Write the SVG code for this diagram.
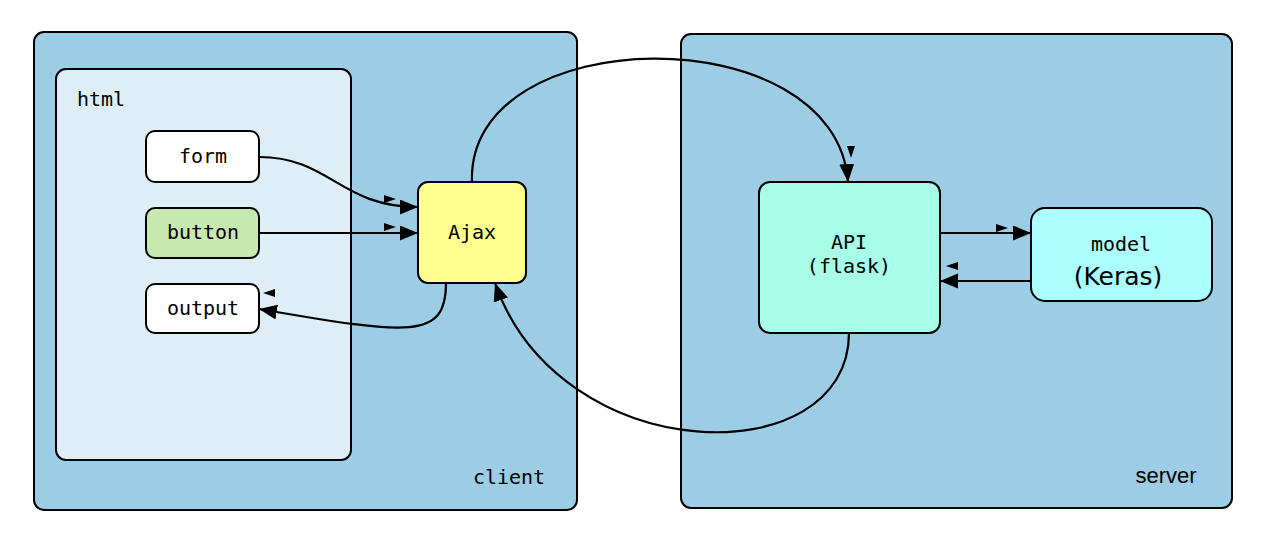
<svg xmlns="http://www.w3.org/2000/svg" width="1262" height="551" viewBox="0 0 1262 551">
<style>
.box{stroke:#000;stroke-width:2}
.mono{font-family:"DejaVu Sans Mono",monospace;font-size:20px;fill:#000}
.edge{fill:none;stroke:#000;stroke-width:2.2}
.tri{fill:#000}
</style>
<defs>
<marker id="ah" markerUnits="userSpaceOnUse" markerWidth="20" markerHeight="16" refX="18" refY="7.5" orient="auto">
<path d="M0,0 L18,7.5 L0,15 Z" fill="#000"/>
</marker>
</defs>
<rect width="1262" height="551" fill="#fff"/>
<g id="client">
<rect class="box" x="34" y="32" width="543" height="478" rx="10" fill="#9ccde5"/>
<text class="mono" x="509" y="484" text-anchor="middle">client</text>
</g>
<g id="server">
<rect class="box" x="681" y="34" width="551" height="474" rx="10" fill="#9ccde5"/>
<text x="1166" y="483" text-anchor="middle" font-family="Liberation Sans, Arial, sans-serif" font-size="22">server</text>
</g>
<g id="html">
<rect class="box" x="56" y="69" width="295" height="391" rx="10" fill="#ddeef6"/>
<text class="mono" x="77" y="106">html</text>
</g>
<g id="form">
<rect class="box" x="146" y="131" width="113" height="51" rx="9" fill="#fff"/>
<text class="mono" x="203" y="163" text-anchor="middle">form</text>
</g>
<g id="button">
<rect class="box" x="146" y="208" width="113" height="50" rx="9" fill="#c6e9b0"/>
<text class="mono" x="203" y="239" text-anchor="middle">button</text>
</g>
<g id="output">
<rect class="box" x="146" y="284" width="113" height="49" rx="9" fill="#fff"/>
<text class="mono" x="203" y="315" text-anchor="middle">output</text>
</g>
<g id="ajax">
<rect class="box" x="418" y="182" width="108" height="101" rx="10" fill="#ffff8f"/>
<text class="mono" x="472" y="239" text-anchor="middle">Ajax</text>
</g>
<g id="api">
<rect class="box" x="759" y="182" width="181" height="151" rx="11" fill="#a7fde6"/>
<text class="mono" x="849" y="249" text-anchor="middle">API</text>
<text class="mono" x="849" y="273" text-anchor="middle">(flask)</text>
</g>
<g id="model">
<rect class="box" x="1031" y="208" width="181" height="93" rx="14" fill="#adfefe"/>
<text class="mono" x="1121" y="251" text-anchor="middle">model</text>
<text x="1118" y="285" text-anchor="middle" font-family="DejaVu Sans, sans-serif" font-size="25">(Keras)</text>
</g>
<g id="connectors">
<path class="edge" d="M259,157 C330,157 340,207 418,207" marker-end="url(#ah)"/>
<path class="edge" d="M259,233 L418,233" marker-end="url(#ah)"/>
<path class="edge" d="M446,283 C446,340 410,335 259,309" marker-end="url(#ah)"/>
<path class="edge" d="M472,182 C466,20 836,15 848,182" marker-end="url(#ah)"/>
<path class="edge" d="M849,333 C849,475 560,470 495,283" marker-end="url(#ah)"/>
<path class="edge" d="M940,233 L1031,233" marker-end="url(#ah)"/>
<path class="edge" d="M1031,281 L940,281" marker-end="url(#ah)"/>
<polygon class="tri" points="384,195 396,199 384,203"/>
<polygon class="tri" points="384,223 396,227 384,231"/>
<polygon class="tri" points="275,289 263,293 275,297"/>
<polygon class="tri" points="847,146 855,146 851,158"/>
<polygon class="tri" points="996,224 1008,228 996,232"/>
<polygon class="tri" points="958,262 946,266 958,270"/>
</g>
</svg>
